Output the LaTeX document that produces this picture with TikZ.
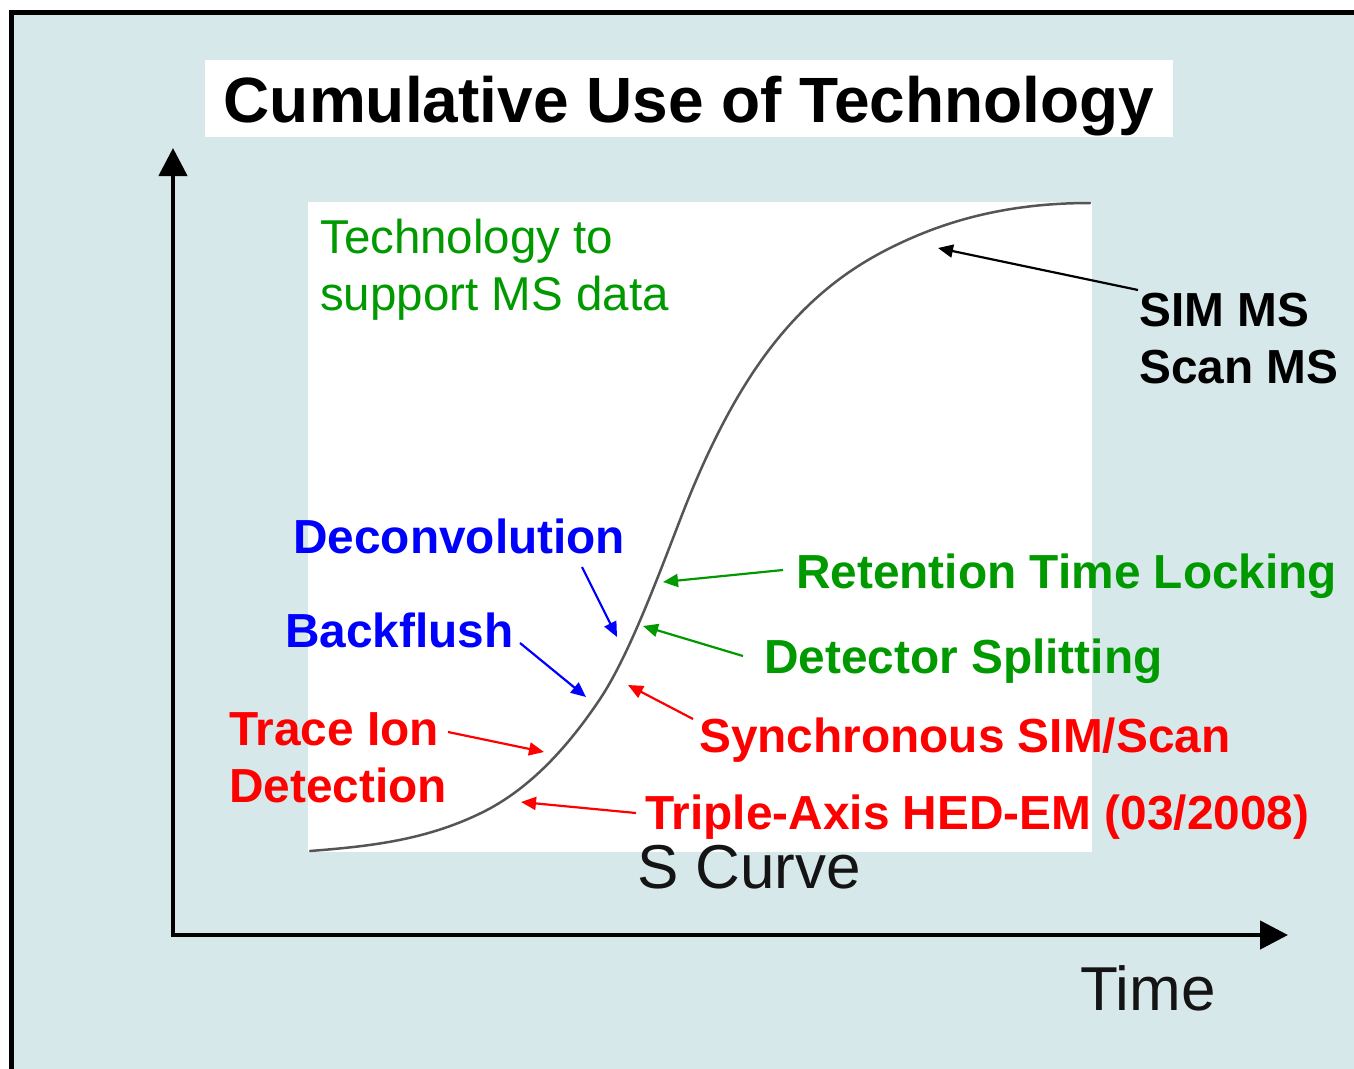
\documentclass[tikz,border=0pt]{standalone}
\usepackage{fontspec}
\setmainfont{Liberation Sans}
\usetikzlibrary{arrows.meta}
\definecolor{bgc}{RGB}{215,232,234}
\definecolor{lgreen}{RGB}{0,153,0}
\definecolor{curvegray}{RGB}{85,85,85}
\definecolor{txtgray}{RGB}{20,20,20}
\begin{document}
\begin{tikzpicture}[x=1pt,y=-1pt,
  lbl/.style={anchor=base west, inner sep=0pt, font=\fontsize{47.8}{56}\selectfont\bfseries},
  reg/.style={anchor=base west, inner sep=0pt, font=\fontsize{47.5}{57}\selectfont},
  big/.style={anchor=base west, inner sep=0pt, font=\fontsize{62}{70}\selectfont, text=txtgray},
  ptr/.style={line width=2.2pt, -{Triangle[length=15pt,width=13pt]}},
  axis/.style={line width=4.5pt, line join=miter, {Triangle[length=28pt,width=28pt]}-{Triangle[length=28pt,width=28pt]}}]
\useasboundingbox (0,0) rectangle (1354,1068);
% frame and background
\begin{scope}
\clip (0,0) rectangle (1354,1068);
\draw[fill=bgc, line width=5pt] (11,12.5) rectangle (1390,1100);
\end{scope}
% title
\node (title) [fill=white, inner sep=0pt, anchor=base, minimum width=968pt, text height=62pt, text depth=15pt,
  font=\fontsize{64}{70}\selectfont\bfseries] at (689,122) {Cumulative Use of Technology};
% plot area
\fill[white] (308,202) rectangle (1092,852);
% axes
\coordinate (ytip) at (173,148);
\coordinate (origin) at (173,935);
\coordinate (xtip) at (1288,935);
\draw[axis] (ytip) -- (origin) -- (xtip);
% S curve
\draw[line width=2.5pt, curvegray, line cap=round]
  (310,851) .. controls (369,846.3) and (428,840.5) .. (487,810)
            .. controls (524.7,790.2) and (562.3,755.5) .. (600,699)
            .. controls (626.7,659) and (653.3,589.4) .. (680,520)
            .. controls (713.3,433.3) and (746.7,376) .. (780,336)
            .. controls (822.3,285.2) and (864.7,259) .. (907,240)
            .. controls (968,212.5) and (1029,203) .. (1090,203);
% labels
\node[reg, text=lgreen] (tech1) at (320,253) {Technology to};
\node[reg, text=lgreen] (tech2) at (320,310) {support MS data};
\node[lbl] (sim1) at (1139,326) {SIM MS};
\node[lbl] (sim2) at (1139,383) {Scan MS};
\node[lbl, text=blue] (deconv) at (293,553) {Deconvolution};
\node[lbl, text=blue] (backflush) at (285,647) {Backflush};
\node[lbl, text=red] (trace1) at (229,745) {Trace Ion};
\node[lbl, text=red] (trace2) at (229,802) {Detection};
\node[lbl, text=lgreen] (ret) at (796,588) {Retention Time Locking};
\node[lbl, text=lgreen] (det) at (764,673) {Detector Splitting};
\node[lbl, text=red] (sync) at (699,752) {Synchronous SIM/Scan};
\node[lbl, text=red] (triple) at (645,829) {Triple-Axis HED-EM (03/2008)};
\node[big] (scurve) at (637,888) {S Curve};
\node[big] (time) at (1080,1010) {Time};
% pointer coordinates
\coordinate (simS) at (1138,290);   \coordinate (simE) at (938,248);
\coordinate (decS) at (582,567);    \coordinate (decE) at (617,637);
\coordinate (bacS) at (520,643);    \coordinate (bacE) at (586,697);
\coordinate (retS) at (783,570);    \coordinate (retE) at (663,582);
\coordinate (detS) at (743,656);    \coordinate (detE) at (643,626);
\coordinate (synS) at (693,719);    \coordinate (synE) at (628,685);
\coordinate (traS) at (448,732);    \coordinate (traE) at (544,752);
\coordinate (triS) at (636,813);    \coordinate (triE) at (521,802);
% pointers
\draw[ptr, black] (simS) -- (simE);
\draw[ptr, blue] (decS) -- (decE);
\draw[ptr, blue] (bacS) -- (bacE);
\draw[ptr, lgreen] (retS) -- (retE);
\draw[ptr, lgreen] (detS) -- (detE);
\draw[ptr, red] (synS) -- (synE);
\draw[ptr, red] (traS) -- (traE);
\draw[ptr, red] (triS) -- (triE);
\end{tikzpicture}
\end{document}
